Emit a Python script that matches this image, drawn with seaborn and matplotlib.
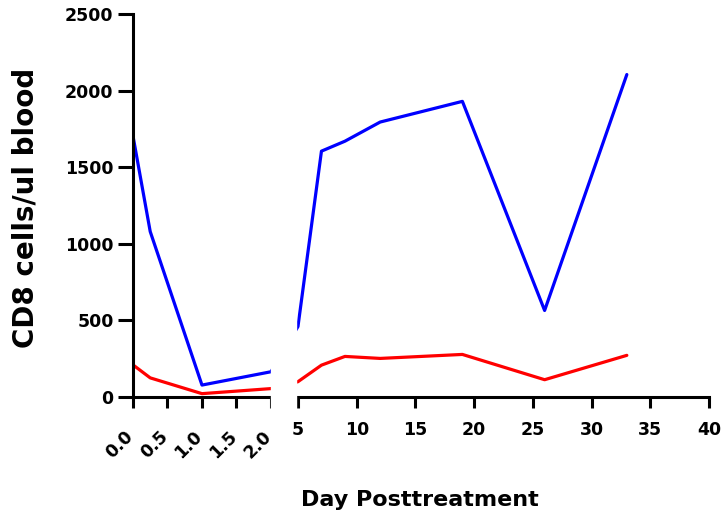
import numpy as np
import pandas as pd
import matplotlib
matplotlib.use("Agg")
import matplotlib.pyplot as plt
from matplotlib.transforms import ScaledTranslation
import seaborn as sns

# ---- data ----
days_blue = [0, 0.25, 1, 2, 5, 7, 9, 12, 19, 26, 33]
cd8_blue = [1705, 1080, 78, 165, 460, 1605, 1670, 1795, 1930, 565, 2105]
days_red = [0, 0.25, 1, 2, 5, 7, 9, 12, 19, 26, 33]
cd8_red = [210, 125, 22, 55, 100, 208, 265, 252, 278, 113, 272]
series_names = ["Group A", "Group B"]
series_colors = ["#0000ff", "#ff0000"]

x_ticks = [0, 0.5, 1, 1.5, 2, 5, 10, 15, 20, 25, 30, 35, 40]
x_tick_labels = ["0.0", "0.5", "1.0", "1.5", "2.0", "5", "10", "15", "20", "25", "30", "35", "40"]
y_ticks = [0, 500, 1000, 1500, 2000, 2500]
y_tick_labels = ["0", "500", "1000", "1500", "2000", "2500"]
x_label = "Day Posttreatment"
y_label = "CD8 cells/ul blood"

df = pd.DataFrame({
    "day": days_blue + days_red,
    "cd8": cd8_blue + cd8_red,
    "group": [series_names[0]] * len(days_blue) + [series_names[1]] * len(days_red),
})

sns.set_style("ticks")
plt.rcParams["font.family"] = ["DejaVu Sans"]
plt.rcParams["font.weight"] = "bold"
plt.rcParams["text.color"] = "black"
plt.rcParams["axes.labelcolor"] = "black"
plt.rcParams["xtick.color"] = "black"
plt.rcParams["ytick.color"] = "black"

# broken-axis scale: 0..2 linear, gap, 5..40 compressed
R = 0.1702   # ratio of right segment px/day to left segment px/day
G = 0.391    # gap width (in left-segment units)

def fwd(x):
    x = np.asarray(x, dtype=float)
    return np.where(x <= 2, x,
                    np.where(x >= 5, 2 + G + (x - 5) * R, 2 + (x - 2) * G / 3))

def inv(u):
    u = np.asarray(u, dtype=float)
    return np.where(u <= 2, u,
                    np.where(u >= 2 + G, 5 + (u - 2 - G) / R, 2 + (u - 2) * 3 / G))

fig = plt.figure(figsize=(7.25, 5.2), dpi=100)
ax = fig.add_axes([0.1834, 0.2365, 0.978 - 0.1834, 0.973 - 0.2365])
ax.set_xscale("function", functions=(fwd, inv))

sns.lineplot(data=df, x="day", y="cd8", hue="group",
             palette=dict(zip(series_names, series_colors)),
             linewidth=2.3, legend=False, errorbar=None, ax=ax)

ax.set_xlim(0, 40)
ax.set_ylim(0, 2500)
ax.set_xticks(x_ticks)
ax.set_xticklabels(x_tick_labels)
ax.set_yticks(y_ticks)
ax.set_yticklabels(y_tick_labels)
ax.xaxis.set_minor_locator(matplotlib.ticker.NullLocator())

for s in ["top", "right"]:
    ax.spines[s].set_visible(False)
for s in ["left", "bottom"]:
    ax.spines[s].set_linewidth(2.2)
    ax.spines[s].set_color("black")

ax.tick_params(axis="x", length=8, width=2.2, pad=9, labelsize=12.5, colors="black")
ax.tick_params(axis="y", length=10.5, width=2.2, pad=3.5, labelsize=12.5, colors="black")
for lab in ax.get_xticklabels() + ax.get_yticklabels():
    lab.set_fontweight("bold")
    lab.set_color("black")
offset = ScaledTranslation(4 / 100, -7 / 100, fig.dpi_scale_trans)
for lab in ax.get_xticklabels()[:5]:
    lab.set_rotation(45)
    lab.set_ha("right")
    lab.set_va("top")
    lab.set_transform(lab.get_transform() + offset)

# gap mask of the broken axis
ax.axvspan(2.05, 4.75, ymin=-0.03, ymax=1.0, color="white", zorder=5, clip_on=False)

ax.set_xlabel(x_label, fontsize=16, fontweight="bold", color="black")
ax.set_ylabel(y_label, fontsize=20, fontweight="bold", color="black")
ax.xaxis.set_label_coords(0.498, -0.243)
ax.yaxis.set_label_coords(-0.163, 0.495)

fig.savefig("out.png", dpi=100)
